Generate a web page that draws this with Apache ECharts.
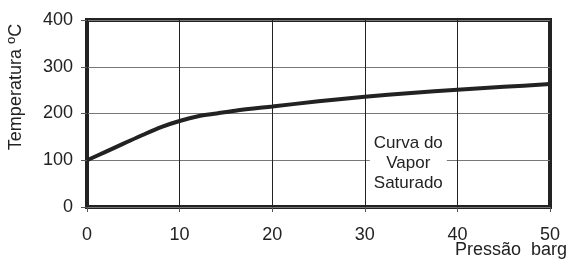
<!DOCTYPE html>
<html>
<head>
<meta charset="utf-8">
<script src="https://cdn.jsdelivr.net/npm/echarts@6/dist/echarts.min.js"></script>
<style>
  html, body { margin: 0; padding: 0; background: #fff; }
  #chart { width: 568px; height: 272px; }
</style>
</head>
<body>
<div id="chart"></div>
<script>
// pressao (barg) vs temperatura (oC)
const pressure = [0, 2, 4, 6, 8, 10, 12, 14, 16, 20, 25, 30, 35, 40, 45, 50];
const temperature = [100, 118, 136, 154, 171, 184, 194, 200, 206, 215, 226, 236, 244, 251, 257, 263];
const xTicks = [0, 10, 20, 30, 40, 50];
const yTicks = [0, 100, 200, 300, 400];
const curveLabel = 'Curva do\nVapor\nSaturado';
const labelAt = [34.7, 94];

const font = 'Liberation Sans, Arial, sans-serif';
const ink = '#222';

var myChart = echarts.init(document.getElementById('chart'));
myChart.setOption({
    animation: false,
    grid: {
        left: 87, right: 18, top: 20, bottom: 65,
        show: true,
        borderColor: ink,
        borderWidth: 4
    },
    xAxis: {
        type: 'value',
        min: xTicks[0],
        max: xTicks[xTicks.length - 1],
        interval: 10,
        axisLine: {show: false},
        axisTick: {show: true, inside: false, length: 5, lineStyle: {color: '#555'}},
        splitLine: {show: true, lineStyle: {color: ink, width: 1}},
        axisLabel: {margin: 19, fontSize: 18, color: ink, fontFamily: font}
    },
    yAxis: {
        type: 'value',
        min: yTicks[0],
        max: yTicks[yTicks.length - 1],
        interval: 100,
        axisLine: {show: false},
        axisTick: {show: true, inside: false, length: 6, lineStyle: {color: '#555'}},
        splitLine: {show: true, lineStyle: {color: '#777', width: 1}},
        axisLabel: {margin: 14, fontSize: 18, color: ink, fontFamily: font}
    },
    series: [{
        type: 'line',
        data: pressure.map((p, i) => [p, temperature[i]]),
        symbol: 'none',
        smooth: 0.3,
        lineStyle: {color: ink, width: 4},
        markPoint: {
            symbol: 'rect',
            symbolSize: 0,
            data: [{coord: labelAt}],
            label: {
                show: true,
                position: 'inside',
                formatter: curveLabel,
                fontSize: 17,
                lineHeight: 20,
                color: ink,
                fontFamily: font,
                backgroundColor: '#fff',
                padding: [1, 4]
            }
        }
    }],
    graphic: [
        {
            type: 'text',
            x: 16, y: 87,
            rotation: Math.PI / 2,
            style: {
                text: 'Temperatura {sup|o}C',
                font: '18px ' + font,
                fill: ink,
                align: 'center',
                verticalAlign: 'middle',
                rich: {
                    sup: {fontSize: 13, fontFamily: font, fill: ink, verticalAlign: 'top', padding: [0, 0, 9, 0]}
                }
            }
        },
        {
            type: 'text',
            right: 1, top: 241,
            style: {
                text: 'Pressão  barg',
                font: '18px ' + font,
                fill: ink
            }
        }
    ]
});
</script>
</body>
</html>
